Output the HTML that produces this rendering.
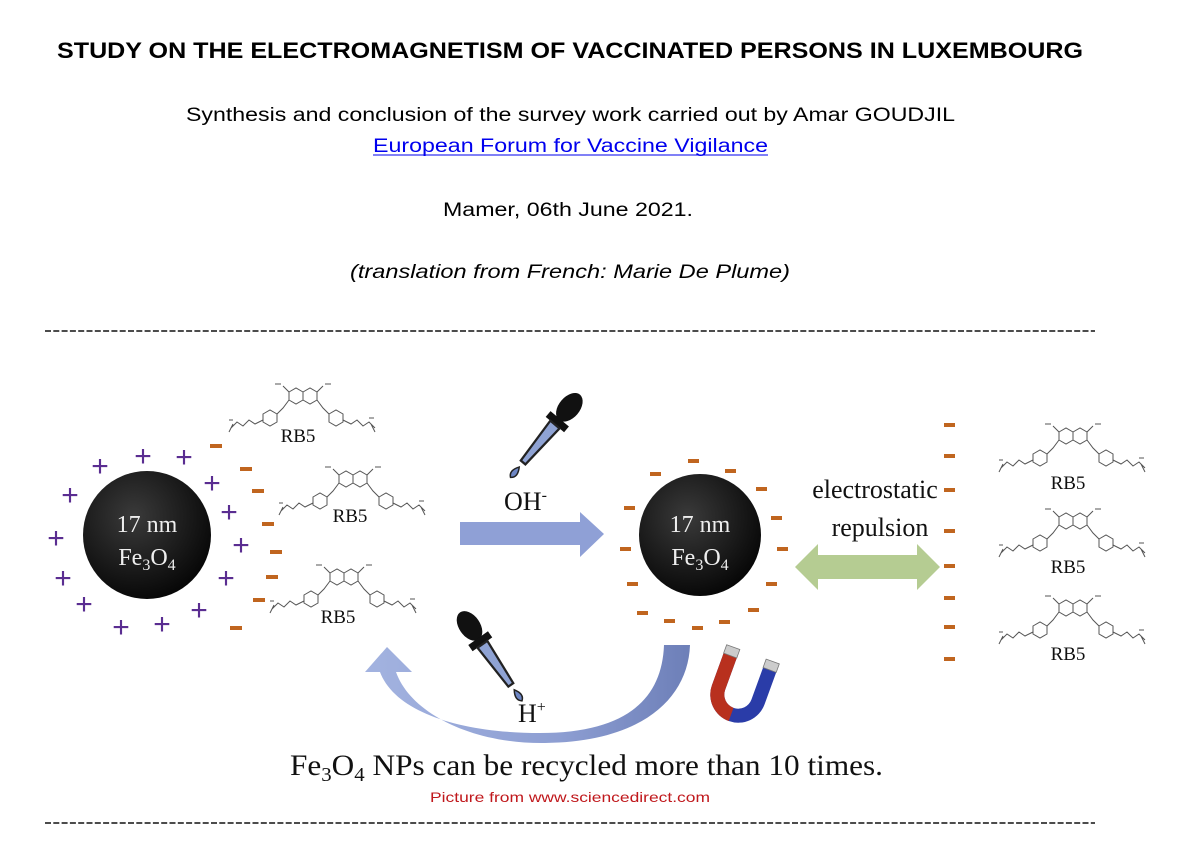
<!DOCTYPE html>
<html><head><meta charset="utf-8"><style>
html,body{margin:0;padding:0;background:#fff;width:1190px;height:844px;overflow:hidden}
svg{display:block}
</style></head><body>
<svg width="1190" height="844" viewBox="0 0 1190 844" xmlns="http://www.w3.org/2000/svg">
<defs>
<g id="mol" fill="none" stroke="#555" stroke-width="1">
<polygon points="62,12 69,8 76,12 76,20 69,24 62,20"/>
<polygon points="76,12 83,8 90,12 90,20 83,24 76,20"/>
<path d="M62,12 L56,6 M90,12 L96,6 M62,20 L56,28 L50,34 M90,20 L96,28 L102,34"/>
<polygon points="36,34 43,30 50,34 50,42 43,46 36,42"/>
<polygon points="102,34 109,30 116,34 116,42 109,46 102,42"/>
<path d="M36,40 L28,44 L22,40 L16,46 L10,42 L4,48 M6,44 L2,52 M116,40 L124,44 L130,40 L136,46 L142,42 L148,48 M144,44 L148,52"/>
<path d="M48,4 l6,0 M98,4 l6,0 M2,40 l4,0 M142,38 l5,0"/>
</g>
<g id="dropper">
<ellipse cx="0" cy="-18" rx="7" ry="11" fill="#111"/>
<rect x="-8" y="-8" width="16" height="5" fill="#111"/>
<path d="M-4,-3 L4,-3 L2,30 L-2,30 Z" fill="#8fa3d4" stroke="#222" stroke-width="1.5"/>
<path d="M0,34 q-4,6 0,9 q4,-3 0,-9z" fill="#6d86c4" stroke="#222" stroke-width="1"/>
</g>
</defs>

<g font-family="'Liberation Sans',sans-serif">
<text x="57" y="58" font-size="22" font-weight="bold" textLength="1026" lengthAdjust="spacingAndGlyphs">STUDY ON THE ELECTROMAGNETISM OF VACCINATED PERSONS IN LUXEMBOURG</text>
<text x="186" y="121" font-size="19" textLength="769" lengthAdjust="spacingAndGlyphs">Synthesis and conclusion of the survey work carried out by Amar GOUDJIL</text>
<text x="373" y="152" font-size="19" fill="#0000ee" textLength="395" lengthAdjust="spacingAndGlyphs">European Forum for Vaccine Vigilance</text>
<line x1="373" y1="155" x2="768" y2="155" stroke="#0000ee" stroke-width="1"/>
<text x="443" y="216" font-size="19" textLength="250" lengthAdjust="spacingAndGlyphs">Mamer, 06th June 2021.</text>
<text x="350" y="278" font-size="19" font-style="italic" textLength="440" lengthAdjust="spacingAndGlyphs">(translation from French: Marie De Plume)</text>
<text x="430" y="802" font-size="14" fill="#c0181c" textLength="280" lengthAdjust="spacingAndGlyphs">Picture from www.sciencedirect.com</text>
</g>
<line x1="45" y1="331" x2="1095" y2="331" stroke="#111" stroke-width="1.4" stroke-dasharray="6,2.3"/>
<line x1="45" y1="823" x2="1095" y2="823" stroke="#111" stroke-width="1.4" stroke-dasharray="6,2.3"/>

<use href="#mol" transform="translate(227,380)"/>
<use href="#mol" transform="translate(277,463)"/>
<use href="#mol" transform="translate(268,561)"/>
<use href="#mol" transform="translate(997,420)"/>
<use href="#mol" transform="translate(997,505)"/>
<use href="#mol" transform="translate(997,592)"/>
<g font-family="'Liberation Serif',serif" font-size="19" text-anchor="middle" fill="#111">
<text x="298" y="442">RB5</text><text x="350" y="522">RB5</text><text x="338" y="623">RB5</text>
<text x="1068" y="489">RB5</text><text x="1068" y="573">RB5</text><text x="1068" y="660">RB5</text>
</g>

<defs><radialGradient id="cg" cx="0.4" cy="0.35" r="0.7"><stop offset="0" stop-color="#3a3a3a"/><stop offset="1" stop-color="#050505"/></radialGradient></defs>
<circle cx="147" cy="535" r="64" fill="url(#cg)"/>
<circle cx="700" cy="535" r="61" fill="url(#cg)"/>
<g font-family="'Liberation Serif',serif" font-size="24" fill="#eee" text-anchor="middle">
<text x="147" y="532">17 nm</text>
<text x="147" y="565">Fe<tspan font-size="16" dy="5">3</tspan><tspan dy="-5">O</tspan><tspan font-size="16" dy="5">4</tspan></text>
<text x="700" y="532">17 nm</text>
<text x="700" y="565">Fe<tspan font-size="16" dy="5">3</tspan><tspan dy="-5">O</tspan><tspan font-size="16" dy="5">4</tspan></text>
</g>

<g font-family="'Liberation Sans',sans-serif" font-size="30" fill="#5a2d91" text-anchor="middle">
<text x="100" y="476">+</text><text x="143" y="466">+</text><text x="184" y="467">+</text>
<text x="212" y="493">+</text><text x="70" y="505">+</text><text x="229" y="522">+</text>
<text x="56" y="548">+</text><text x="241" y="555">+</text><text x="63" y="588">+</text>
<text x="226" y="588">+</text><text x="84" y="614">+</text><text x="121" y="637">+</text>
<text x="162" y="634">+</text><text x="199" y="620">+</text>
</g>
<g fill="#c0651f">
<rect x="210" y="444" width="12" height="4"/><rect x="240" y="467" width="12" height="4"/>
<rect x="252" y="489" width="12" height="4"/><rect x="262" y="522" width="12" height="4"/>
<rect x="270" y="550" width="12" height="4"/><rect x="266" y="575" width="12" height="4"/>
<rect x="253" y="598" width="12" height="4"/><rect x="230" y="626" width="12" height="4"/>
<rect x="650" y="472" width="11" height="4"/><rect x="688" y="459" width="11" height="4"/>
<rect x="725" y="469" width="11" height="4"/><rect x="756" y="487" width="11" height="4"/>
<rect x="624" y="506" width="11" height="4"/><rect x="771" y="516" width="11" height="4"/>
<rect x="620" y="547" width="11" height="4"/><rect x="777" y="547" width="11" height="4"/>
<rect x="627" y="582" width="11" height="4"/><rect x="766" y="582" width="11" height="4"/>
<rect x="637" y="611" width="11" height="4"/><rect x="664" y="619" width="11" height="4"/>
<rect x="692" y="626" width="11" height="4"/><rect x="719" y="620" width="11" height="4"/>
<rect x="748" y="608" width="11" height="4"/>
<rect x="944" y="423" width="11" height="4"/><rect x="944" y="454" width="11" height="4"/>
<rect x="944" y="488" width="11" height="4"/><rect x="944" y="529" width="11" height="4"/>
<rect x="944" y="564" width="11" height="4"/><rect x="944" y="596" width="11" height="4"/>
<rect x="944" y="625" width="11" height="4"/><rect x="944" y="657" width="11" height="4"/>
</g>

<path d="M460,522 L580,522 L580,512 L604,534 L580,557 L580,545 L460,545 Z" fill="#8fa0d6"/>
<path d="M795,567 L818,544 L818,555 L917,555 L917,544 L940,567 L917,590 L917,579 L818,579 L818,590 Z" fill="#b5cc92"/>
<defs><linearGradient id="ca" x1="0" y1="0" x2="1" y2="0"><stop offset="0" stop-color="#a3b3e0"/><stop offset="0.6" stop-color="#8d9ed2"/><stop offset="1" stop-color="#6d7fb8"/></linearGradient></defs>
<path d="M664,645 L690,645 C688,700 640,742 545,743 C470,744 410,712 396,672 L412,672 L387,647 L365,672 L380,672 C395,712 460,733 540,733 C625,733 662,700 664,645 Z" fill="url(#ca)"/>

<use href="#dropper" transform="translate(552,428) rotate(40) scale(1.5)"/>
<use href="#dropper" transform="translate(485,648) rotate(-35) scale(1.5)"/>

<g transform="translate(740,690) rotate(20)">
<path d="M-28,-30 L-14,-30 L-14,5 A14,14 0 0 0 14,5 L14,-30 L28,-30 L28,5 A28,28 0 0 1 -28,5 Z" fill="#2a3ca8"/>
<path d="M-28,-30 L-14,-30 L-14,5 A14,14 0 0 0 0,19 L0,33 A28,28 0 0 1 -28,5 Z" fill="#b8301e"/>
<rect x="-28" y="-38" width="14" height="9" fill="#ccc" stroke="#777" stroke-width="0.8"/>
<rect x="14" y="-38" width="14" height="9" fill="#ccc" stroke="#777" stroke-width="0.8"/>
</g>

<g font-family="'Liberation Serif',serif" fill="#111">
<text x="504" y="510" font-size="26">OH<tspan font-size="16" dy="-10">-</tspan></text>
<text x="518" y="722" font-size="26">H<tspan font-size="16" dy="-10">+</tspan></text>
<text x="875" y="498" font-size="26" text-anchor="middle">electrostatic</text>
<text x="880" y="536" font-size="26" text-anchor="middle">repulsion</text>
<text x="290" y="775" font-size="30" textLength="593" lengthAdjust="spacingAndGlyphs">Fe<tspan font-size="20" dy="6">3</tspan><tspan dy="-6">O</tspan><tspan font-size="20" dy="6">4</tspan><tspan dy="-6"> NPs can be recycled more than 10 times.</tspan></text>
</g>
</svg>
</body></html>
